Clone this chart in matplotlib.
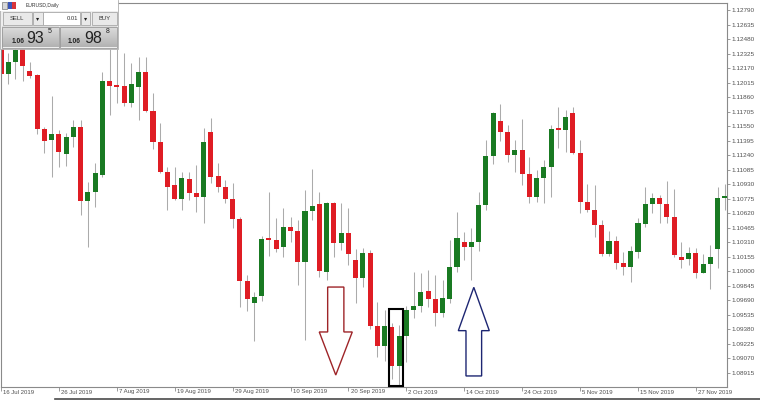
import numpy as np
import matplotlib.pyplot as plt
from matplotlib.patches import Rectangle, Polygon
from matplotlib.transforms import ScaledTranslation

plt.rcParams['font.family'] = ['Liberation Sans', 'DejaVu Sans']

## EURUSD diario, valores (open, high, low, close)
opens = [1.12384, 1.12103, 1.12238, 1.12374, 1.12138, 1.12096, 1.11519, 1.11401, 1.11465, 1.11252,
         1.11437, 1.11543, 1.10750, 1.10849, 1.11027, 1.12032, 1.11976, 1.11978, 1.11800, 1.11971,
         1.12128, 1.11711, 1.11377, 1.11059, 1.10920, 1.10774, 1.10985, 1.10838, 1.10796, 1.11490,
         1.11017, 1.10899, 1.10768, 1.10557, 1.09895, 1.09657, 1.09735, 1.10342, 1.10333, 1.10255,
         1.10468, 1.10429, 1.10101, 1.10643, 1.10718, 1.09994, 1.10725, 1.10298, 1.10404, 1.10119,
         1.09927, 1.10191, 1.09417, 1.09200, 1.09400, 1.08990, 1.09310, 1.09585, 1.09628, 1.09788,
         1.09703, 1.09556, 1.09699, 1.10048, 1.10315, 1.10255, 1.10315, 1.10707, 1.11230, 1.11604,
         1.11487, 1.11238, 1.11294, 1.11035, 1.10789, 1.10992, 1.11116, 1.11517, 1.11508, 1.11687,
         1.11266, 1.10736, 1.10653, 1.10493, 1.10180, 1.10325, 1.10090, 1.10048, 1.10208, 1.10504,
         1.10714, 1.10778, 1.10718, 1.10582, 1.10148, 1.10127, 1.10191, 1.09984, 1.10073, 1.10240,
         1.10785]
highs = [1.12448, 1.12331, 1.12427, 1.12427, 1.12238, 1.12106, 1.11543, 1.11871, 1.11508, 1.11479,
         1.11615, 1.11615, 1.10956, 1.11159, 1.12131, 1.12416, 1.12384, 1.12331, 1.12227, 1.12291,
         1.12291, 1.11907, 1.11583, 1.11116, 1.11116, 1.11063, 1.11063, 1.11134, 1.11529, 1.11636,
         1.11156, 1.10974, 1.10939, 1.10582, 1.09959, 1.09781, 1.10376, 1.10843, 1.10565, 1.10671,
         1.10582, 1.10546, 1.10867, 1.11088, 1.10849, 1.10742, 1.10742, 1.10731, 1.10671, 1.10234,
         1.10244, 1.10226, 1.09674, 1.09585, 1.09443, 1.09425, 1.09628, 1.09994, 1.09984, 1.10012,
         1.09959, 1.09906, 1.10333, 1.10635, 1.10422, 1.10458, 1.10849, 1.11401, 1.11704, 1.11786,
         1.11562, 1.11401, 1.11622, 1.11223, 1.11081, 1.11188, 1.11562, 1.11757, 1.11722, 1.11757,
         1.11401, 1.10931, 1.10920, 1.10546, 1.10432, 1.10379, 1.10208, 1.10269, 1.10565, 1.10902,
         1.10832, 1.10814, 1.10966, 1.10874, 1.10315, 1.10255, 1.10244, 1.10180, 1.10279, 1.10902,
         1.10928]
lows = [1.12085, 1.11999, 1.12053, 1.12032, 1.12064, 1.11465, 1.11266, 1.11009, 1.11116, 1.11124,
        1.11330, 1.10600, 1.10261, 1.10689, 1.11009, 1.11668, 1.11797, 1.11765, 1.11757, 1.11615,
        1.11704, 1.11305, 1.11049, 1.10653, 1.10760, 1.10653, 1.10760, 1.10635, 1.10515, 1.10939,
        1.10849, 1.10725, 1.10461, 1.09620, 1.09578, 1.09257, 1.09684, 1.10162, 1.10208, 1.10148,
        1.10315, 1.09852, 1.09264, 1.10546, 1.09941, 1.09906, 1.10154, 1.10226, 1.10066, 1.09657,
        1.09834, 1.09382, 1.09086, 1.09043, 1.08845, 1.08784, 1.09033, 1.09496, 1.09567, 1.09620,
        1.09414, 1.09513, 1.09657, 1.09994, 1.10119, 1.09906, 1.10219, 1.10653, 1.11145, 1.11394,
        1.11169, 1.11063, 1.10920, 1.10725, 1.10742, 1.10731, 1.10796, 1.11313, 1.11276, 1.11252,
        1.10625, 1.10635, 1.10368, 1.10165, 1.10162, 1.10020, 1.09959, 1.09887, 1.10137, 1.10468,
        1.10618, 1.10518, 1.10518, 1.10148, 1.10031, 1.10066, 1.09924, 1.09977, 1.09806, 1.10031,
        1.10653]
closes = [1.12106, 1.12238, 1.12363, 1.12192, 1.12088, 1.11519, 1.11394, 1.11465, 1.11273, 1.11437,
          1.11543, 1.10750, 1.10846, 1.11049, 1.12032, 1.11981, 1.11972, 1.11800, 1.11996, 1.12128,
          1.11708, 1.11377, 1.11063, 1.10896, 1.10774, 1.10995, 1.10838, 1.10796, 1.11383, 1.11009,
          1.10902, 1.10768, 1.10562, 1.09895, 1.09699, 1.09727, 1.10344, 1.10338, 1.10240, 1.10468,
          1.10429, 1.10101, 1.10640, 1.10696, 1.10002, 1.10725, 1.10298, 1.10404, 1.10183, 1.09924,
          1.10191, 1.09417, 1.09200, 1.09417, 1.08990, 1.09310, 1.09585, 1.09628, 1.09774, 1.09703,
          1.09556, 1.09710, 1.10048, 1.10357, 1.10255, 1.10315, 1.10707, 1.11230, 1.11687, 1.11487,
          1.11238, 1.11294, 1.11035, 1.10789, 1.10992, 1.11113, 1.11519, 1.11513, 1.11644, 1.11266,
          1.10736, 1.10653, 1.10493, 1.10183, 1.10325, 1.10084, 1.10048, 1.10212, 1.10511, 1.10714,
          1.10778, 1.10718, 1.10582, 1.10176, 1.10119, 1.10191, 1.09984, 1.10073, 1.10148, 1.10778,
          1.10803]

fechas = ['16 Jul 2019', '26 Jul 2019', '7 Aug 2019', '19 Aug 2019', '29 Aug 2019', '10 Sep 2019',
          '20 Sep 2019', '2 Oct 2019', '14 Oct 2019', '24 Oct 2019', '5 Nov 2019', '15 Nov 2019',
          '27 Nov 2019']
niveles = [1.08915, 1.09070, 1.09225, 1.09380, 1.09535, 1.09690, 1.09845, 1.10000, 1.10155,
           1.10310, 1.10465, 1.10620, 1.10775, 1.10930, 1.11085, 1.11240, 1.11395, 1.11550,
           1.11705, 1.11860, 1.12015, 1.12170, 1.12325, 1.12480, 1.12635, 1.12790]

rojo = '#df1d24'
verde = '#197a22'
gris = '#8a8a8a'

o = np.array(opens)
h = np.array(highs)
l = np.array(lows)
c = np.array(closes)
x = np.arange(len(o))
sube = c > o

fig = plt.figure(figsize=(7.6, 4.0), dpi=100)
ax = fig.add_axes([1/760, 13/400, 726/760, 384/400])

## velas
ax.vlines(x, l, h, color='#ababab', lw=0.75, zorder=1)
alto = np.maximum(np.abs(c - o), 0.00012)
ax.bar(x, alto, bottom=np.minimum(o, c), width=0.7, linewidth=0,
       color=np.where(sube, verde, rojo), zorder=2)

ax.set_xlim(0.03, 100.3)
ax.set_ylim(1.08762, 1.12865)

for s in ax.spines.values():
    s.set_color(gris)
    s.set_linewidth(0.8)

ax.yaxis.tick_right()
ax.set_yticks(niveles)
ax.set_yticklabels(['%.5f' % v for v in niveles])
ax.tick_params(axis='y', length=2, width=0.6, color=gris, labelsize=4.6,
               labelcolor='#505050', pad=1)

ax.set_xticks(np.arange(0, 8 * len(fechas), 8))
ax.set_xticklabels(fechas)
ax.tick_params(axis='x', length=3, width=0.6, color=gris, labelsize=4.3,
               labelcolor='#505050', pad=-1.2)
desp = ScaledTranslation(1.5 / 72, 0, fig.dpi_scale_trans)
for t in ax.get_xticklabels():
    t.set_ha('left')
    t.set_transform(t.get_transform() + desp)

## flecha roja hacia abajo
cx, sw, hw = 46.25, 1.12, 2.28
ax.add_patch(Polygon([(cx - sw, 1.0983), (cx + sw, 1.0983), (cx + sw, 1.0935), (cx + hw, 1.0935),
                      (cx, 1.0889), (cx - hw, 1.0935), (cx - sw, 1.0935)],
                     closed=True, fill=False, edgecolor='#9e2428', lw=1.0, zorder=3))
## flecha azul hacia arriba
cx, sw, hw = 65.32, 1.08, 2.14
ax.add_patch(Polygon([(cx, 1.09827), (cx + hw, 1.09364), (cx + sw, 1.09364), (cx + sw, 1.0888),
                      (cx - sw, 1.0888), (cx - sw, 1.09364), (cx - hw, 1.09364)],
                     closed=True, fill=False, edgecolor='#1d2672', lw=1.0, zorder=3))
## recuadro negro
ax.add_patch(Rectangle((53.6, 1.0877), 2.0, 1.0960 - 1.0877, fill=False,
                       edgecolor='black', lw=1.5, zorder=4, clip_on=False))

## panel de un clic (coordenadas en pixeles)
ov = fig.add_axes([0, 0, 1, 1], zorder=5)
ov.patch.set_alpha(0)
ov.axis('off')

ov.add_patch(Rectangle((0, 0), 118, 49, fc='#eeeeee', ec='#b0b0b0', lw=0.6))
ov.add_patch(Rectangle((0, 0), 118, 10.5, fc='white', ec='none'))
ov.add_patch(Rectangle((2, 2), 4.5, 7, fc='#d8d8d8', ec='#7a7a7a', lw=0.5))
ov.add_patch(Rectangle((7.5, 2), 4, 7, fc='#3b57b8', ec='none'))
ov.add_patch(Rectangle((11.5, 2), 4.5, 7, fc='#d8343a', ec='none'))
ov.text(26, 6, 'EURUSD,Daily', fontsize=3.6, color='#333333', va='center')

ov.add_patch(Rectangle((2.5, 12), 29, 13, fc='#e9e9e9', ec='#a8a8a8', lw=0.6))
ov.text(17, 18.7, 'SELL', fontsize=4.2, color='#333333', ha='center', va='center')
ov.add_patch(Rectangle((32.5, 12), 10, 13, fc='#e9e9e9', ec='#a8a8a8', lw=0.6))
ov.text(37.5, 18.7, '▾', fontsize=4.5, color='#222222', ha='center', va='center')
ov.add_patch(Rectangle((43, 12), 37, 13, fc='white', ec='#a8a8a8', lw=0.6))
ov.text(78, 18.7, '0.01', fontsize=4.2, color='#333333', ha='right', va='center')
ov.add_patch(Rectangle((80.5, 12), 9.5, 13, fc='#e9e9e9', ec='#a8a8a8', lw=0.6))
ov.text(85.2, 18.7, '▾', fontsize=4.5, color='#222222', ha='center', va='center')
ov.add_patch(Rectangle((91.5, 12), 25.5, 13, fc='#e9e9e9', ec='#a8a8a8', lw=0.6))
ov.text(104.2, 18.7, 'BUY', fontsize=4.2, color='#333333', ha='center', va='center')

grad = np.linspace(0.87, 0.70, 20)[:, None, None] * np.ones((20, 1, 3))
for x0, x1 in [(2, 58.5), (60, 117)]:
    ov.imshow(grad, extent=(x0, x1, 47.5, 27), aspect='auto', zorder=1)
    ov.add_patch(Rectangle((x0, 27), x1 - x0, 20.5, fill=False, ec='#9a9a9a', lw=0.6, zorder=2))
ov.text(11.5, 43, '1.06', fontsize=4.8, color='#222222', fontweight='bold', va='baseline')
ov.text(26.5, 43, '93', fontsize=11.5, color='#222222', va='baseline')
ov.text(48, 33, '5', fontsize=5, color='#222222', va='baseline')
ov.text(68, 43, '1.06', fontsize=4.8, color='#222222', fontweight='bold', va='baseline')
ov.text(84, 43, '98', fontsize=11.5, color='#222222', va='baseline')
ov.text(106, 33, '8', fontsize=5, color='#222222', va='baseline')

ov.plot([55, 760], [399.3, 399.3], color='#4a4a4a', lw=1.2)
ov.set_xlim(0, 760)
ov.set_ylim(400, 0)

fig.savefig('out.png', dpi=100)
